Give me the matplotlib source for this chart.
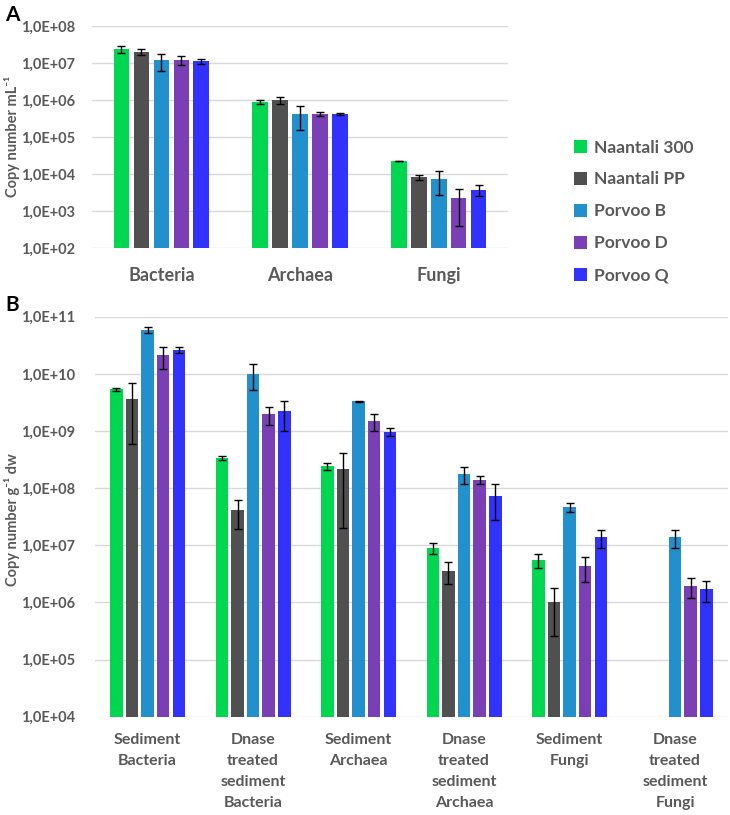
import numpy as np
import matplotlib
matplotlib.use("Agg")
import matplotlib.pyplot as plt
from matplotlib.ticker import FuncFormatter, FixedLocator
from matplotlib.patches import Patch

series = ["Naantali 300", "Naantali PP", "Porvoo B", "Porvoo D", "Porvoo Q"]
colors = ["#00D650", "#505050", "#2190CC", "#7B3FB5", "#3232FF"]

# Panel A
cats_a = ["Bacteria", "Archaea", "Fungi"]
vals_a = {
    "Naantali 300": [2.4e7, 9.0e5, 2.25e4],
    "Naantali PP":  [2.0e7, 1.0e6, 8.1e3],
    "Porvoo B":     [1.2e7, 4.1e5, 7.5e3],
    "Porvoo D":     [1.2e7, 4.1e5, 2.2e3],
    "Porvoo Q":     [1.1e7, 4.2e5, 3.8e3],
}
err_a = {
    "Naantali 300": [5.5e6, 1.0e5, 5.0e2],
    "Naantali PP":  [3.5e6, 2.0e5, 1.2e3],
    "Porvoo B":     [6.0e6, 2.6e5, 4.8e3],
    "Porvoo D":     [3.0e6, 5.0e4, 1.8e3],
    "Porvoo Q":     [1.5e6, 3.0e4, 1.2e3],
}

# Panel B
cats_b = ["Sediment\nBacteria", "Dnase\ntreated\nsediment\nBacteria", "Sediment\nArchaea",
          "Dnase\ntreated\nsediment\nArchaea", "Sediment\nFungi", "Dnase\ntreated\nsediment\nFungi"]
vals_b = {
    "Naantali 300": [5.4e9, 3.4e8, 2.4e8, 8.9e6, 5.5e6, np.nan],
    "Naantali PP":  [3.7e9, 4.1e7, 2.2e8, 3.6e6, 1.02e6, np.nan],
    "Porvoo B":     [5.9e10, 1.0e10, 3.3e9, 1.78e8, 4.7e7, 1.38e7],
    "Porvoo D":     [2.1e10, 1.96e9, 1.48e9, 1.39e8, 4.3e6, 1.95e6],
    "Porvoo Q":     [2.6e10, 2.2e9, 9.6e8, 7.4e7, 1.38e7, 1.7e6],
}
err_b = {
    "Naantali 300": [3.0e8, 3.0e7, 3.0e7, 2.0e6, 1.5e6, np.nan],
    "Naantali PP":  [3.1e9, 2.2e7, 2.0e8, 1.5e6, 7.6e5, np.nan],
    "Porvoo B":     [7.0e9, 4.8e9, 1.0e8, 6.0e7, 9.0e6, 5.0e6],
    "Porvoo D":     [9.0e9, 7.0e8, 5.0e8, 2.3e7, 2.0e6, 7.5e5],
    "Porvoo Q":     [3.0e9, 1.2e9, 1.5e8, 4.6e7, 4.7e6, 7.0e5],
}

plt.rcParams['font.family'] = ['Lato', 'DejaVu Sans']
TXT = "#595959"

fig = plt.figure(figsize=(7.3, 8.15), dpi=100)
axA = fig.add_axes([0.126, 0.6957, 0.570, 0.2724])
axB = fig.add_axes([0.130, 0.1206, 0.867, 0.4908])

def fmt(v, pos):
    e = int(round(np.log10(v)))
    return f"1,0E+{e:02d}"

def draw(ax, cats, vals, errs, lo, hi, group_w, gap_frac, cap, xfs, ls):
    n = len(series)
    x = np.arange(len(cats))
    slot = group_w / n
    bw = slot * (1 - gap_frac)
    for i, s in enumerate(series):
        xi = x - group_w / 2 + slot * (i + 0.5)
        v = np.array(vals[s], dtype=float)
        e = np.array(errs[s], dtype=float)
        ax.bar(xi, v, width=bw, color=colors[i], zorder=2, label=s)
        ax.errorbar(xi, v, yerr=e, fmt='none', ecolor='black', elinewidth=1.0,
                    capsize=cap, capthick=1.0, zorder=3)
    ax.set_yscale('log')
    ax.set_ylim(lo, hi)
    ax.set_xlim(-0.5, len(cats) - 0.5)
    ticks = [10.0 ** k for k in range(int(np.log10(lo)), int(np.log10(hi)) + 1)]
    ax.yaxis.set_major_locator(FixedLocator(ticks))
    ax.yaxis.set_minor_locator(FixedLocator([]))
    ax.yaxis.set_major_formatter(FuncFormatter(fmt))
    ax.set_xticks(x)
    ax.set_xticklabels(cats, fontsize=xfs, fontweight='bold', color=TXT, linespacing=ls)
    ax.grid(axis='y', color='#D9D9D9', linewidth=1.0, zorder=0)
    ax.set_axisbelow(True)
    for sp in ax.spines.values():
        sp.set_visible(False)
    ax.tick_params(axis='both', length=0, colors=TXT)
    for lab in ax.get_yticklabels():
        lab.set_fontsize(10.5)
        lab.set_fontweight('bold')
        lab.set_color(TXT)

draw(axA, cats_a, vals_a, err_a, 1e2, 1e8, 0.72, 0.22, 3, 13, 1.2)
draw(axB, cats_b, vals_b, err_b, 1e4, 1e11, 0.74, 0.2, 3, 11.5, 1.62)

axA.tick_params(axis='y', pad=12)
axA.tick_params(axis='x', pad=14)
axB.tick_params(axis='y', pad=14)
axB.tick_params(axis='x', pad=12)

fig.text(0.016, 0.832, "Copy number mL\u207b\u00b9", rotation=90, ha='center', va='center',
         fontsize=10.5, fontweight='bold', color=TXT, family=['Lato', 'DejaVu Sans'])
fig.text(0.016, 0.362, "Copy number g\u207b\u00b9 dw", rotation=90, ha='center', va='center',
         fontsize=10.5, fontweight='bold', color=TXT, family=['Lato', 'DejaVu Sans'])

fig.text(0.007, 0.982, "A", fontsize=15, fontweight='bold', color='black', ha='left', va='center')
fig.text(0.007, 0.626, "B", fontsize=15, fontweight='bold', color='black', ha='left', va='center')

handles = [Patch(facecolor=c, edgecolor='none') for c in colors]
leg = fig.legend(handles, series, loc='upper left', bbox_to_anchor=(0.765, 0.848),
                 frameon=False, handlelength=0.75, handleheight=0.75, handletextpad=0.4,
                 labelspacing=0.92, prop={'size': 12.5, 'weight': 'bold'})
for t in leg.get_texts():
    t.set_color(TXT)

fig.savefig("out.png", dpi=100)
